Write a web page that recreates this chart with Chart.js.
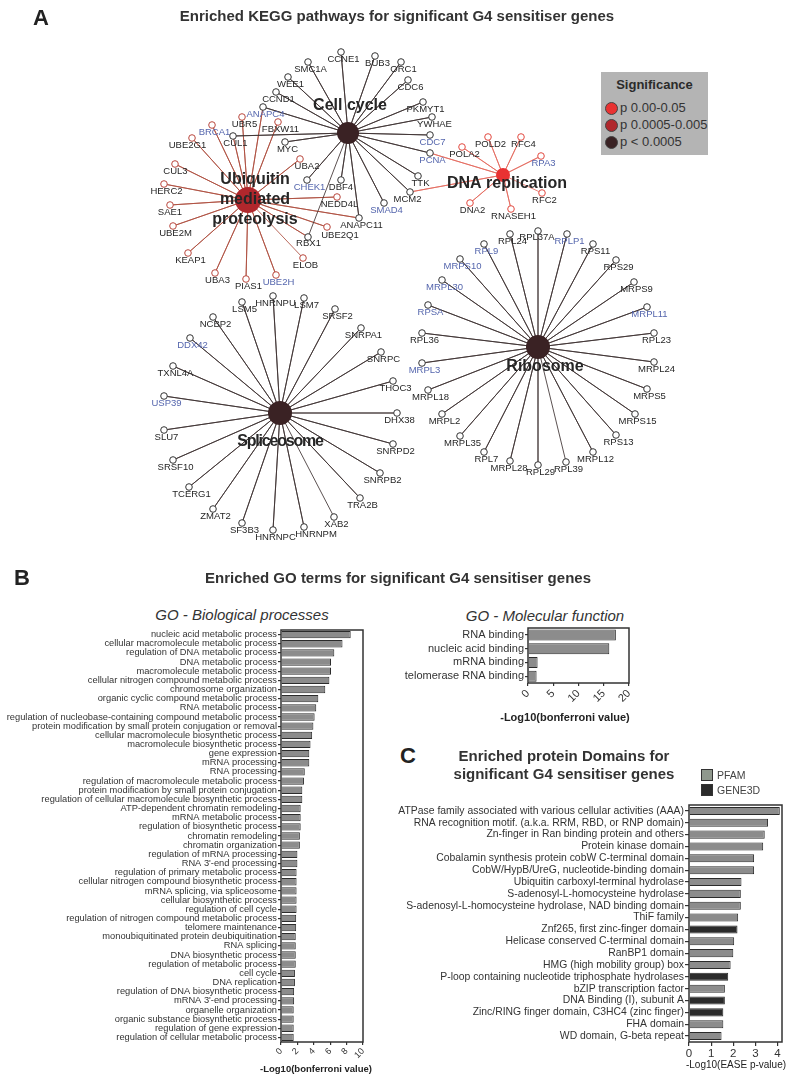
<!doctype html>
<html lang="en">
<head>
<meta charset="utf-8">
<title>Enriched pathways, GO terms and domains for G4 sensitiser genes</title>
<script src="https://cdn.jsdelivr.net/npm/chart.js"></script>
<style>
  body { margin: 0; background: #fff; font-family: "Liberation Sans", Arial, sans-serif; color: #333; }
  #page { position: relative; width: 793px; height: 1083px; overflow: hidden; }
  canvas { position: absolute; }
  .txt { position: absolute; white-space: nowrap; transform: translate(-50%, -50%); }
  .letter { position: absolute; font-weight: bold; font-size: 22px; color: #222; }
  .head { font-weight: bold; font-size: 15px; color: #333; }
  .sub { font-style: italic; font-size: 15px; color: #333; }
  .axt { color: #222; }
  #sig { position: absolute; left: 601px; top: 72px; width: 107px; height: 83px; background: #b4b4b4; }
  #sig .t { position: absolute; left: 0; width: 107px; top: 5px; text-align: center; font-weight: bold; font-size: 13px; color: #2b2b2b; }
  #sig .dot { position: absolute; left: 4px; width: 11px; height: 11px; border-radius: 50%; border: 1px solid #444; }
  #sig .lab { position: absolute; left: 19px; font-size: 13px; color: #333; white-space: nowrap; }
  .sq { position: absolute; width: 10px; height: 10px; border: 1px solid #333; }
  .lg { position: absolute; font-size: 10.5px; color: #444; }
</style>
</head>
<body>
<div id="page">

  <!------------- A : KEGG NETWORK ------------->
  <canvas id="network" width="793" height="580" style="left:0;top:0"></canvas>
  <div class="letter" style="left:33px;top:5px">A</div>
  <div class="txt head" style="left:397px;top:15px">Enriched KEGG pathways for significant G4 sensitiser genes</div>
  <div id="sig">
    <div class="t">Significance</div>
    <div class="dot" style="top:30px;background:#e93232"></div><div class="lab" style="top:28px">p 0.00-0.05</div>
    <div class="dot" style="top:47px;background:#b0272c"></div><div class="lab" style="top:45px">p 0.0005-0.005</div>
    <div class="dot" style="top:64px;background:#3a2224"></div><div class="lab" style="top:62px">p &lt; 0.0005</div>
  </div>

  <!------------- B : GO TERMS ------------->
  <div class="letter" style="left:14px;top:565px">B</div>
  <div class="txt head" style="left:398px;top:577px">Enriched GO terms for significant G4 sensitiser genes</div>
  <div class="txt sub" style="left:242px;top:614px">GO - Biological processes</div>
  <div class="txt sub" style="left:545px;top:615px">GO - Molecular function</div>
  <canvas id="goBio" width="380" height="483" style="left:0;top:600px"></canvas>
  <canvas id="goMol" width="260" height="130" style="left:390px;top:600px"></canvas>
  <div class="txt axt" style="left:316px;top:1068px;font-weight:bold;font-size:9.5px">-Log10(bonferroni value)</div>
  <div class="txt axt" style="left:565px;top:717px;font-weight:bold;font-size:11px">-Log10(bonferroni value)</div>

  <!------------- C : PROTEIN DOMAINS ------------->
  <div class="letter" style="left:400px;top:743px">C</div>
  <div class="txt head" style="left:564px;top:755px">Enriched protein Domains for</div>
  <div class="txt head" style="left:564px;top:773px">significant G4 sensitiser genes</div>
  <div class="sq" style="left:701px;top:769px;background:#8f988d"></div><div class="lg" style="left:717px;top:769px">PFAM</div>
  <div class="sq" style="left:701px;top:784px;background:#2b2b2b"></div><div class="lg" style="left:717px;top:784px">GENE3D</div>
  <canvas id="domains" width="403" height="288" style="left:390px;top:795px"></canvas>
  <div class="txt axt" style="left:736px;top:1064px;font-size:10px">-Log10(EASE p-value)</div>

</div>

<script>
// ---------- network data ----------
const hubNames = ['Cell cycle', 'Ubiquitin mediated proteolysis', 'DNA replication', 'Ribosome', 'Spliceosome'];
const hubX = [348, 248, 503, 538, 280];
const hubY = [133, 200, 175, 347, 413];
const hubSignificance = ['p < 0.0005', 'p 0.0005-0.005', 'p 0.00-0.05', 'p < 0.0005', 'p < 0.0005'];

const cellCycleGenes = ['CCNE1', 'BUB3', 'ORC1', 'SMC1A', 'WEE1', 'CDC6', 'CCND1', 'PKMYT1', 'ANAPC4', 'YWHAE',
  'CUL1', 'CDC7', 'MYC', 'PCNA', 'TTK', 'CHEK1', 'DBF4', 'MCM2', 'SMAD4', 'ANAPC11', 'RBX1'];
const ubiquitinGenes = ['UBR5', 'FBXW11', 'BRCA1', 'UBE2G1', 'CUL1', 'ANAPC4', 'CUL3', 'UBA2', 'HERC2', 'NEDD4L',
  'SAE1', 'UBE2M', 'UBE2Q1', 'ANAPC11', 'RBX1', 'KEAP1', 'UBA3', 'PIAS1', 'UBE2H', 'ELOB'];
const dnaReplicationGenes = ['POLD2', 'RFC4', 'POLA2', 'RPA3', 'PCNA', 'MCM2', 'DNA2', 'RNASEH1', 'RFC2'];
const ribosomeGenes = ['RPL37A', 'RPL24', 'RPLP1', 'RPL9', 'RPS11', 'MRPS10', 'RPS29', 'MRPL30', 'MRPS9', 'RPSA',
  'MRPL11', 'RPL36', 'RPL23', 'MRPL3', 'MRPL24', 'MRPL18', 'MRPS5', 'MRPL2', 'MRPS15', 'MRPL35', 'RPS13', 'RPL7',
  'MRPL12', 'MRPL28', 'RPL29', 'RPL39'];
const spliceosomeGenes = ['HNRNPU', 'LSM7', 'LSM5', 'SRSF2', 'NCBP2', 'SNRPA1', 'DDX42', 'SNRPC', 'TXNL4A', 'THOC3',
  'USP39', 'DHX38', 'SLU7', 'SNRPD2', 'SRSF10', 'SNRPB2', 'TCERG1', 'TRA2B', 'ZMAT2', 'SF3B3', 'HNRNPC', 'HNRNPM', 'XAB2'];
const highlightedGenes = ['BRCA1', 'ANAPC4', 'CHEK1', 'CDC7', 'PCNA', 'SMAD4', 'UBE2H', 'RPA3', 'DDX42', 'USP39',
  'RPL9', 'MRPS10', 'MRPL30', 'RPSA', 'MRPL3', 'RPLP1', 'MRPL11'];

// layout of the network
const genePos = {
  CCNE1: [341, 52], BUB3: [375, 56], ORC1: [401, 62], SMC1A: [308, 62], WEE1: [288, 77], CDC6: [408, 80],
  CCND1: [276, 92], PKMYT1: [423, 102], ANAPC4: [263, 107], YWHAE: [432, 117], UBR5: [242, 117], FBXW11: [278, 122],
  BRCA1: [212, 125], CUL1: [233, 136], CDC7: [430, 135], UBE2G1: [192, 138], MYC: [285, 142], PCNA: [430, 153],
  CUL3: [175, 164], UBA2: [300, 159], TTK: [418, 176], CHEK1: [307, 180], DBF4: [341, 180], HERC2: [164, 184],
  MCM2: [410, 192], NEDD4L: [337, 197], SAE1: [170, 205], SMAD4: [384, 203], ANAPC11: [359, 218], UBE2M: [173, 226],
  UBE2Q1: [327, 227], RBX1: [308, 237], KEAP1: [188, 253], ELOB: [303, 258], UBA3: [215, 273], PIAS1: [246, 279],
  UBE2H: [276, 275],
  POLD2: [488, 137], RFC4: [521, 137], POLA2: [462, 147], RPA3: [541, 156], DNA2: [470, 203], RNASEH1: [511, 209],
  RFC2: [542, 193],
  RPL37A: [538, 231], RPL24: [510, 234], RPLP1: [567, 234], RPL9: [484, 244], RPS11: [593, 244], MRPS10: [460, 259],
  RPS29: [616, 260], MRPL30: [442, 280], MRPS9: [634, 282], RPSA: [428, 305], MRPL11: [647, 307], RPL36: [422, 333],
  RPL23: [654, 333], MRPL3: [422, 363], MRPL24: [654, 362], MRPL18: [428, 390], MRPS5: [647, 389], MRPL2: [442, 414],
  MRPS15: [635, 414], MRPL35: [460, 436], RPS13: [616, 435], RPL7: [484, 452], MRPL12: [593, 452], MRPL28: [510, 461],
  RPL29: [538, 465], RPL39: [566, 462],
  HNRNPU: [273, 296], LSM7: [304, 298], LSM5: [242, 302], SRSF2: [335, 309], NCBP2: [213, 317], SNRPA1: [361, 328],
  DDX42: [190, 338], SNRPC: [381, 352], TXNL4A: [173, 366], THOC3: [393, 381], USP39: [164, 396], DHX38: [397, 413],
  SLU7: [164, 430], SNRPD2: [393, 444], SRSF10: [173, 460], SNRPB2: [380, 473], TCERG1: [189, 487], TRA2B: [360, 498],
  ZMAT2: [213, 509], SF3B3: [242, 523], HNRNPC: [273, 530], HNRNPM: [304, 527], XAB2: [334, 517]
};

// ---------- GO data ----------
const bioTerms = ['nucleic acid metabolic process', 'cellular macromolecule metabolic process',
  'regulation of DNA metabolic process', 'DNA metabolic process', 'macromolecule metabolic process',
  'cellular nitrogen compound metabolic process', 'chromosome organization', 'organic cyclic compound metabolic process',
  'RNA metabolic process', 'regulation of nucleobase-containing compound metabolic process',
  'protein modification by small protein conjugation or removal', 'cellular macromolecule biosynthetic process',
  'macromolecule biosynthetic process', 'gene expression', 'mRNA processing', 'RNA processing',
  'regulation of macromolecule metabolic process', 'protein modification by small protein conjugation',
  'regulation of cellular macromolecule biosynthetic process', 'ATP-dependent chromatin remodeling',
  'mRNA metabolic process', 'regulation of biosynthetic process', 'chromatin remodeling', 'chromatin organization',
  'regulation of mRNA processing', "RNA 3'-end processing", 'regulation of primary metabolic process',
  'cellular nitrogen compound biosynthetic process', 'mRNA splicing, via spliceosome', 'cellular biosynthetic process',
  'regulation of cell cycle', 'regulation of nitrogen compound metabolic process', 'telomere maintenance',
  'monoubiquitinated protein deubiquitination', 'RNA splicing', 'DNA biosynthetic process',
  'regulation of metabolic process', 'cell cycle', 'DNA replication', 'regulation of DNA biosynthetic process',
  "mRNA 3'-end processing", 'organelle organization', 'organic substance biosynthetic process',
  'regulation of gene expression', 'regulation of cellular metabolic process'];
const bioValues = [8.5, 7.5, 6.5, 6.1, 6.1, 5.9, 5.4, 4.55, 4.3, 4.1, 3.95, 3.8, 3.6, 3.45, 3.45, 2.9, 2.8, 2.6, 2.6,
  2.4, 2.4, 2.4, 2.3, 2.3, 2.0, 2.0, 1.9, 1.9, 1.9, 1.9, 1.9, 1.85, 1.85, 1.8, 1.8, 1.8, 1.8, 1.7, 1.7, 1.6, 1.6,
  1.55, 1.55, 1.55, 1.55];
const bioTicks = [0, 2, 4, 6, 8, 10];

const molTerms = ['RNA binding', 'nucleic acid binding', 'mRNA binding', 'telomerase RNA binding'];
const molValues = [17.4, 16.1, 1.9, 1.7];
const molTicks = [0, 5, 10, 15, 20];

// ---------- protein domain data ----------
const domainTerms = ['ATPase family associated with various cellular activities (AAA)',
  'RNA recognition motif. (a.k.a. RRM, RBD, or RNP domain)', 'Zn-finger in Ran binding protein and others',
  'Protein kinase domain', 'Cobalamin synthesis protein cobW C-terminal domain',
  'CobW/HypB/UreG, nucleotide-binding domain', 'Ubiquitin carboxyl-terminal hydrolase',
  'S-adenosyl-L-homocysteine hydrolase', 'S-adenosyl-L-homocysteine hydrolase, NAD binding domain', 'ThiF family',
  'Znf265, first zinc-finger domain', 'Helicase conserved C-terminal domain', 'RanBP1 domain',
  'HMG (high mobility group) box', 'P-loop containing nucleotide triphosphate hydrolases', 'bZIP transcription factor',
  'DNA Binding (I), subunit A', 'Zinc/RING finger domain, C3HC4 (zinc finger)', 'FHA domain', 'WD domain, G-beta repeat'];
const domainValues = [4.1, 3.57, 3.42, 3.35, 2.94, 2.94, 2.37, 2.34, 2.34, 2.22, 2.19, 2.04, 2.0, 1.88, 1.77, 1.62,
  1.62, 1.55, 1.55, 1.47];
const domainSource = ['PFAM', 'PFAM', 'PFAM', 'PFAM', 'PFAM', 'PFAM', 'PFAM', 'PFAM', 'PFAM', 'PFAM', 'GENE3D', 'PFAM',
  'PFAM', 'PFAM', 'GENE3D', 'PFAM', 'GENE3D', 'GENE3D', 'PFAM', 'PFAM'];
const domainTicks = [0, 1, 2, 3, 4];

// ---------- styles ----------
const FONT = '"Liberation Sans", Arial, sans-serif';
Chart.defaults.font.family = FONT;
Chart.defaults.color = '#333';
const BLUE = '#5566ad';
const BAR_GREY = '#8c8c8c';
const sigColour = { 'p 0.00-0.05': '#e93232', 'p 0.0005-0.005': '#b0272c', 'p < 0.0005': '#3a2224' };
const hubRadius = [11, 13, 7, 12, 12];
const edgeColour = ['#3d3131', '#ad4e3f', '#e46a5e', '#3d3131', '#3d3131'];
const hubLabel = [
  { lines: ['Cell cycle'], dx: 2, dy: -27, size: 16 },
  { lines: ['Ubiquitin', 'mediated', 'proteolysis'], dx: 7, dy: -20, size: 16 },
  { lines: ['DNA replication'], dx: 4, dy: 9, size: 16 },
  { lines: ['Ribosome'], dx: 7, dy: 20, size: 16 },
  { lines: ['Spliceosome'], dx: 0, dy: 29, size: 16, spacing: '-1.2px' }
];
const labelShift = { UBE2G1: [-4.5, 7.5], HNRNPM: [12, 7.5], UBE2Q1: [13, 8], UBA2: [7, 7.5], MCM2: [-2.5, 7.5],
  RPL37A: [-1, 6], MRPL28: [-1, 7.5], RBX1: [0.5, 6], CUL3: [0.5, 7.5], SAE1: [0, 7.5], DBF4: [0, 7.5] };

const hubGenes = [cellCycleGenes, ubiquitinGenes, dnaReplicationGenes, ribosomeGenes, spliceosomeGenes];
const allGenes = [...new Set(hubGenes.flat())];

function nodeColour(g) {
  const elsewhere = cellCycleGenes.includes(g) || ribosomeGenes.includes(g) || spliceosomeGenes.includes(g);
  if (elsewhere) return '#333';
  if (dnaReplicationGenes.includes(g)) return '#e2493f';
  if (ubiquitinGenes.includes(g)) return '#b9473d';
  return '#333';
}

// each hub's edges as one zig-zag line: hub, gene, hub, gene ...
const edgeSets = hubGenes.map((genes, i) => ({
  data: genes.flatMap(g => [{ x: hubX[i], y: hubY[i] }, { x: genePos[g][0], y: genePos[g][1] }]),
  showLine: true, borderColor: edgeColour[i], borderWidth: 0.85, pointRadius: 0,
  borderJoinStyle: 'bevel', order: 3
}));

const networkLabels = {
  id: 'networkLabels',
  afterDatasetsDraw(chart) {
    const { ctx, scales: { x, y } } = chart;
    ctx.save();
    ctx.textAlign = 'center';
    ctx.textBaseline = 'middle';
    ctx.font = '9.5px ' + FONT;
    allGenes.forEach(g => {
      const [dx, dy] = labelShift[g] || [2.5, 7.5];
      ctx.fillStyle = highlightedGenes.includes(g) ? BLUE : '#262626';
      ctx.fillText(g, x.getPixelForValue(genePos[g][0]) + dx, y.getPixelForValue(genePos[g][1]) + dy);
    });
    hubNames.forEach((name, i) => {
      const s = hubLabel[i];
      ctx.font = 'bold ' + s.size + 'px ' + FONT;
      ctx.letterSpacing = s.spacing || '0px';
      ctx.fillStyle = '#262626';
      s.lines.forEach((line, k) => {
        ctx.fillText(line, x.getPixelForValue(hubX[i]) + s.dx, y.getPixelForValue(hubY[i]) + s.dy + k * 20);
      });
    });
    ctx.restore();
  }
};

new Chart(document.getElementById('network'), {
  type: 'scatter',
  data: {
    datasets: [
      ...edgeSets,
      {
        data: allGenes.map(g => ({ x: genePos[g][0], y: genePos[g][1] })),
        pointRadius: 3.3, pointBorderWidth: 1, pointBackgroundColor: '#fff',
        pointBorderColor: allGenes.map(nodeColour), order: 2
      },
      {
        data: hubNames.map((n, i) => ({ x: hubX[i], y: hubY[i] })),
        pointRadius: hubRadius, pointBorderWidth: 0,
        pointBackgroundColor: hubSignificance.map(s => sigColour[s]), order: 1
      }
    ]
  },
  options: {
    responsive: false, animation: false, events: [],
    layout: { padding: 0, autoPadding: false },
    plugins: { legend: { display: false }, tooltip: { enabled: false } },
    scales: {
      x: { type: 'linear', min: 0, max: 793, display: false },
      y: { type: 'linear', min: 0, max: 580, reverse: true, display: false }
    }
  },
  plugins: [networkLabels]
});

// ---------- bar charts ----------
const frame = {
  id: 'frame',
  afterDraw(chart) {
    const { ctx, chartArea: a } = chart;
    ctx.save();
    ctx.strokeStyle = '#333';
    ctx.lineWidth = 1.5;
    ctx.strokeRect(a.left, a.top, a.right - a.left, a.bottom - a.top);
    ctx.restore();
  }
};

function barChart(id, o) {
  return new Chart(document.getElementById(id), {
    type: 'bar',
    data: {
      labels: o.labels,
      datasets: [{
        data: o.values, backgroundColor: o.colours, borderColor: '#2b2b2b', borderWidth: 1,
        barPercentage: o.barPct, categoryPercentage: 1
      }]
    },
    options: {
      indexAxis: 'y', responsive: false, animation: false, events: [],
      layout: { padding: o.padding },
      plugins: { legend: { display: false }, tooltip: { enabled: false } },
      scales: {
        x: {
          type: 'linear', min: 0, max: o.max,
          afterBuildTicks: s => { s.ticks = o.ticks.map(v => ({ value: v })); },
          ticks: { autoSkip: false, font: { size: o.xFont }, color: '#333', padding: 1,
            minRotation: o.rot, maxRotation: o.rot },
          grid: { drawOnChartArea: false, tickLength: o.tick, color: '#333', lineWidth: 1.2 },
          border: { display: false },
          afterFit: s => { s.height = o.xHeight; }
        },
        y: {
          ticks: { autoSkip: false, font: { size: o.yFont }, color: '#333', padding: 1 },
          grid: { drawOnChartArea: false, offset: false, tickLength: o.tick, color: '#333', lineWidth: 1.2 },
          border: { display: false },
          afterFit: s => { s.width = o.yWidth; }
        }
      }
    },
    plugins: [frame]
  });
}

barChart('goBio', {
  labels: bioTerms, values: bioValues, colours: BAR_GREY, barPct: 0.8, max: 10, ticks: bioTicks,
  xFont: 9, yFont: 9.3, rot: 45, tick: 3, xHeight: 41, yWidth: 281,
  padding: { top: 30, right: 17, bottom: 0, left: 0 }
});

barChart('goMol', {
  labels: molTerms, values: molValues, colours: BAR_GREY, barPct: 0.8, max: 20, ticks: molTicks,
  xFont: 11, yFont: 11, rot: 45, tick: 3, xHeight: 47, yWidth: 138,
  padding: { top: 28, right: 21, bottom: 0, left: 0 }
});

barChart('domains', {
  labels: domainTerms, values: domainValues, colours: domainSource.map(s => s === 'GENE3D' ? '#2b2b2b' : BAR_GREY),
  barPct: 0.68, max: 4.2, ticks: domainTicks, xFont: 11.5, yFont: 10.4, rot: 0, tick: 4,
  xHeight: 41, yWidth: 299, padding: { top: 10, right: 11, bottom: 0, left: 0 }
});
</script>
</body>
</html>
